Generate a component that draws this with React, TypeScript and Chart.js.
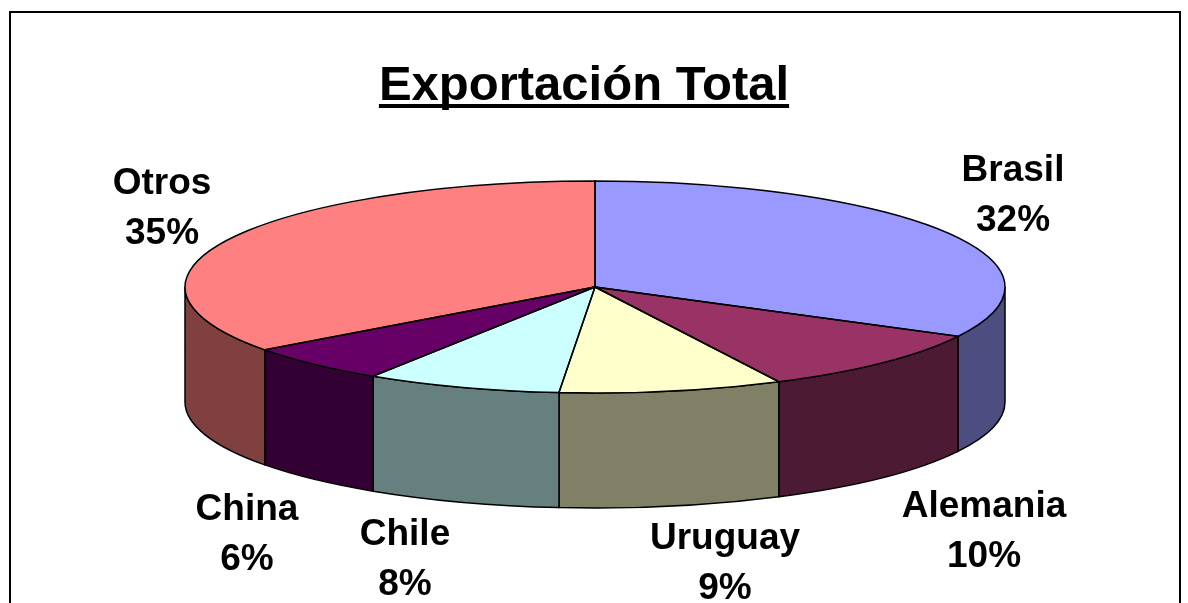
import React, { useEffect, useRef } from "react";
import { Chart, registerables } from "chart.js";

Chart.register(...registerables);

const categories = ["Brasil", "Alemania", "Uruguay", "Chile", "China", "Otros"];
const shareValues = [32.7, 9.9, 8.8, 7.7, 5.8, 35.1];
const percentLabels = ["32%", "10%", "9%", "8%", "6%", "35%"];
const topColors = ["#9999FF", "#993366", "#FFFFCC", "#CCFFFF", "#660066", "#FF8080"];
const wallColors = ["#4D4D80", "#4D1A33", "#808066", "#668080", "#330033", "#804040"];
const titleText = "Exportación Total";

const FONT = '"Liberation Sans", Arial, sans-serif';
const WIDTH = 1188;
const HEIGHT = 603;
const RX = 410;
const RY = 106;
const DEPTH = 115;
const SQUASH = RY / RX;
// label block centres, relative to the pie centre
const labelAnchors: [number, number][] = [
  [418, -91],
  [389, 245],
  [130, 277],
  [-190, 273],
  [-348, 248],
  [-433, -78],
];

const piePlugin = {
  id: "pie3d",
  beforeDraw(chart: any) {
    const { ctx } = chart;
    ctx.save();
    ctx.fillStyle = "#FFFFFF";
    ctx.fillRect(0, 0, WIDTH, HEIGHT);
    ctx.strokeStyle = "#000000";
    ctx.lineWidth = 2;
    ctx.strokeRect(10, 12, 1170, HEIGHT + 20);
    ctx.fillStyle = "#000000";
    ctx.font = `bold 49px ${FONT}`;
    ctx.textAlign = "center";
    ctx.textBaseline = "alphabetic";
    ctx.fillText(titleText, 584, 100);
    const w = ctx.measureText(titleText).width;
    ctx.fillRect(584 - w / 2, 104, w, 4);
    ctx.restore();
  },
  beforeDatasetDraw(chart: any, args: any) {
    const { ctx } = chart;
    const arcs = args.meta.data;
    const cx = arcs[0].x;
    const cy = arcs[0].y;
    ctx.save();
    ctx.strokeStyle = "#000000";
    ctx.lineWidth = 1.5;
    arcs.forEach((arc: any, i: number) => {
      const a0 = Math.max(arc.startAngle, 0);
      const a1 = Math.min(arc.endAngle, Math.PI);
      if (a1 <= a0) return;
      ctx.beginPath();
      ctx.ellipse(cx, cy, RX, RY, 0, a0, a1);
      ctx.ellipse(cx, cy + DEPTH, RX, RY, 0, a1, a0, true);
      ctx.closePath();
      ctx.fillStyle = wallColors[i];
      ctx.fill();
      ctx.stroke();
    });
    ctx.restore();
    ctx.save();
    ctx.translate(cx, cy);
    ctx.scale(1, SQUASH);
    ctx.translate(-cx, -cy);
  },
  afterDatasetDraw(chart: any, args: any) {
    const { ctx } = chart;
    ctx.restore();
    const arcs = args.meta.data;
    ctx.save();
    ctx.strokeStyle = "#000000";
    ctx.lineWidth = 1.5;
    arcs.forEach((arc: any) => {
      const cx = arc.x;
      const cy = arc.y;
      ctx.beginPath();
      ctx.moveTo(cx, cy);
      ctx.ellipse(cx, cy, RX, RY, 0, arc.startAngle, arc.endAngle);
      ctx.closePath();
      ctx.stroke();
    });
    ctx.restore();
  },
  afterDraw(chart: any) {
    const { ctx } = chart;
    const arc0 = chart.getDatasetMeta(0).data[0];
    ctx.save();
    ctx.fillStyle = "#000000";
    ctx.font = `bold 37px ${FONT}`;
    ctx.textAlign = "center";
    ctx.textBaseline = "middle";
    categories.forEach((name, i) => {
      const x = arc0.x + labelAnchors[i][0];
      const y = arc0.y + labelAnchors[i][1];
      ctx.fillText(name, x, y - 25);
      ctx.fillText(percentLabels[i], x, y + 25);
    });
    ctx.restore();
  },
};

export default function App() {
  const canvasRef = useRef<HTMLCanvasElement | null>(null);
  useEffect(() => {
    if (!canvasRef.current) return;
    const chart = new Chart(canvasRef.current, {
      type: "pie",
      data: {
        labels: categories,
        datasets: [
          {
            data: shareValues,
            backgroundColor: topColors,
            borderWidth: 0,
            radius: RX,
            clip: false,
          } as any,
        ],
      },
      options: {
        responsive: false,
        animation: false,
        radius: RX,
        layout: { padding: { left: 2, right: 0, top: 0, bottom: 29 } },
        plugins: { legend: { display: false }, tooltip: { enabled: false }, title: { display: false } },
      } as any,
      plugins: [piePlugin],
    });
    return () => chart.destroy();
  }, []);
  return (
    <canvas
      ref={canvasRef}
      width={WIDTH}
      height={HEIGHT}
      style={{ position: "fixed", left: 0, top: 0, width: WIDTH, height: HEIGHT, display: "block" }}
    />
  );
}
